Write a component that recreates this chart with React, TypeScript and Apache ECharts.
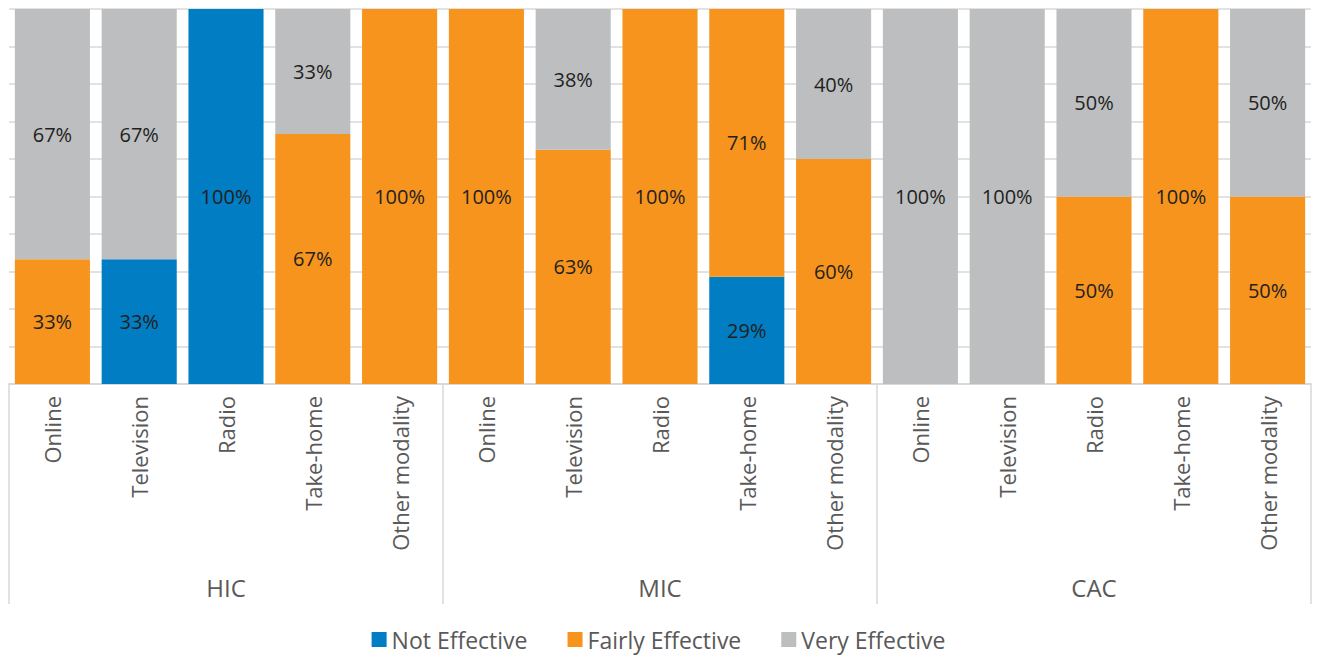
import { useEffect, useRef } from 'react';
import * as echarts from 'echarts';

const groups = ['HIC', 'MIC', 'CAC'];
const modalities = ['Online', 'Television', 'Radio', 'Take-home', 'Other modality'];
const categories = groups.flatMap(() => modalities);

const notEffective = [0, 33.3, 100, 0, 0, 0, 0, 0, 28.6, 0, 0, 0, 0, 0, 0];
const fairlyEffective = [33.3, 0, 0, 66.7, 100, 100, 62.5, 100, 71.4, 60, 0, 0, 50, 100, 50];
const veryEffective = [66.7, 66.7, 0, 33.3, 0, 0, 37.5, 0, 0, 40, 100, 100, 50, 0, 50];

const seriesNames = ['Not Effective', 'Fairly Effective', 'Very Effective'];
const seriesColors = ['#007dc3', '#f7941d', '#bcbec0'];

const FONT = "'Open Sans', 'Noto Sans', sans-serif";

export default function App() {
  const ref = useRef<HTMLDivElement>(null);

  useEffect(() => {
    if (!ref.current) return;
    const chart = echarts.init(ref.current, undefined, { renderer: 'svg' });
    const values = [notEffective, fairlyEffective, veryEffective];
    chart.setOption({
      animation: false,
      textStyle: { fontFamily: FONT },
      grid: { left: 9, right: 6, top: 9, bottom: 271, containLabel: false },
      legend: {
        data: seriesNames,
        left: 'center',
        top: 623,
        icon: 'rect',
        itemWidth: 15,
        itemHeight: 15,
        itemGap: 40,
        textStyle: { fontSize: 23, color: '#595959', fontFamily: FONT },
      },
      xAxis: [
        {
          type: 'category',
          data: categories,
          position: 'bottom',
          axisLine: { show: true, lineStyle: { color: '#d9d9d9', width: 2 } },
          axisTick: { show: false },
          axisLabel: {
            interval: 0,
            rotate: 90,
            margin: 12,
            fontSize: 22,
            color: '#595959',
            fontFamily: FONT,
          },
        },
        {
          type: 'category',
          data: groups,
          position: 'bottom',
          gridIndex: 0,
          axisLine: { show: false },
          axisTick: { show: true, length: 220, lineStyle: { color: '#d9d9d9', width: 1.5 } },
          axisLabel: { interval: 0, margin: 191, fontSize: 24, color: '#595959', fontFamily: FONT },
          splitLine: { show: false },
        },
      ],
      yAxis: {
        type: 'value',
        min: 0,
        max: 100,
        interval: 10,
        axisLabel: { show: false },
        axisLine: { show: false },
        axisTick: { show: false },
        splitLine: { show: true, lineStyle: { color: '#d9d9d9', width: 1.5 } },
      },
      series: seriesNames.map((name, i) => ({
        name,
        type: 'bar',
        stack: 'total',
        xAxisIndex: 0,
        barCategoryGap: '13.5%',
        itemStyle: { color: seriesColors[i] },
        label: {
          show: true,
          position: 'inside',
          color: '#231f20',
          fontSize: 20,
          fontFamily: FONT,
          formatter: (p: any) => (p.value > 0 ? Math.round(p.value) + '%' : ''),
        },
        data: values[i],
      })),
    });
    return () => chart.dispose();
  }, []);

  return (
    <div
      ref={ref}
      style={{ position: 'absolute', left: 0, top: 0, width: 1317, height: 655, background: '#fff' }}
    />
  );
}
